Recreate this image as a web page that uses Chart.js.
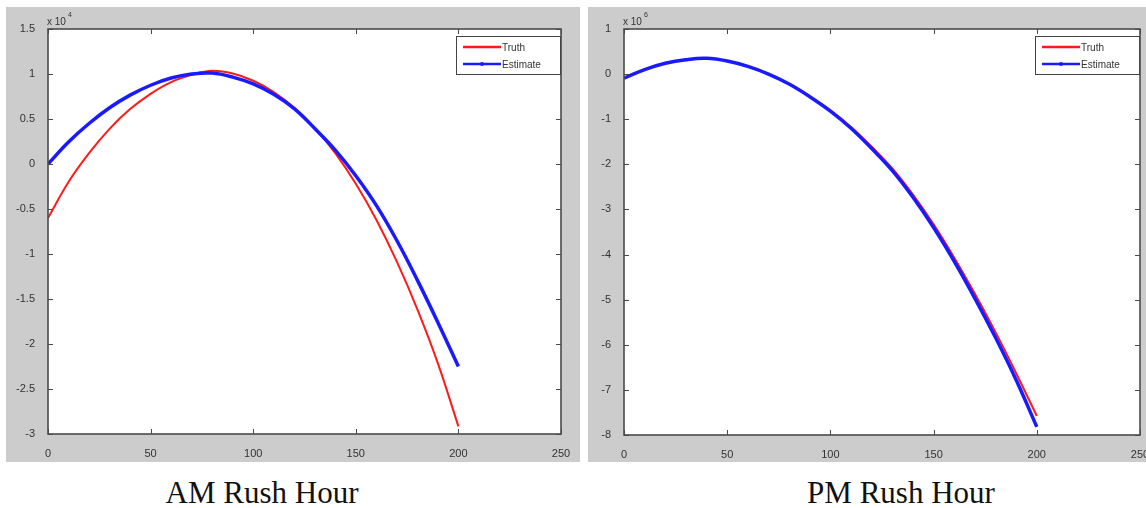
<!DOCTYPE html>
<html>
<head>
<meta charset="utf-8">
<script src="https://cdn.jsdelivr.net/npm/chart.js@4"></script>
<style>
  body{margin:0;background:#fff;width:1146px;height:508px;position:relative;overflow:hidden}
  .fig{position:absolute;top:7px;height:455px;background:#cccccc;overflow:hidden}
  #amFig{left:6px;width:574px}
  #pmFig{left:588px;width:558px}
  .box{position:absolute;left:0;top:0;height:455px}
  .cap{position:absolute;top:477px;width:400px;text-align:center;font:31px/31px "Liberation Serif",serif;color:#111}
</style>
</head>
<body>
<div class="fig" id="amFig"><div class="box" style="width:574px"><canvas id="amChart"></canvas></div></div>
<div class="fig" id="pmFig"><div class="box" style="width:580px"><canvas id="pmChart"></canvas></div></div>
<div class="cap" style="left:62px">AM Rush Hour</div>
<div class="cap" style="left:701px">PM Rush Hour</div>

<script>
// --- data (values in units of the axis exponent) ---
var xValues    = [0,10,20,30,40,50,60,70,80,90,100,110,120,130,140,150,160,170,180,190,200];
var amTruth    = [-0.60,-0.20,0.12,0.39,0.61,0.78,0.91,0.99,1.035,1.005,0.925,0.80,0.625,0.40,0.12,-0.22,-0.62,-1.085,-1.615,-2.215,-2.915];
var amEstimate = [0,0.245,0.45,0.625,0.765,0.875,0.955,1.00,1.01,0.965,0.89,0.775,0.615,0.395,0.155,-0.13,-0.46,-0.85,-1.29,-1.76,-2.25];
var pmTruth    = [-0.09,0.10,0.24,0.32,0.35,0.29,0.17,0.00,-0.22,-0.50,-0.80,-1.17,-1.61,-2.09,-2.67,-3.33,-4.07,-4.87,-5.72,-6.63,-7.58];
var pmEstimate = [-0.09,0.10,0.24,0.32,0.35,0.29,0.17,0.00,-0.22,-0.50,-0.82,-1.20,-1.65,-2.14,-2.73,-3.40,-4.15,-4.97,-5.84,-6.78,-7.82];
var xTicks     = [0,50,100,150,200,250];
var amYTicks   = [-3,-2.5,-2,-1.5,-1,-0.5,0,0.5,1,1.5];
var pmYTicks   = [-8,-7,-6,-5,-4,-3,-2,-1,0,1];
var seriesNames = ['Truth','Estimate'];

(function(){
  var tickFont = {family:'"Liberation Sans", Arial, sans-serif', size:11};

  function pts(arr){ return xValues.map(function(x,i){ return {x:x, y:arr[i]}; }); }

  // matlab-ish white axes, box, inward ticks, exponent label and legend
  var matlabAxes = {
    id:'matlabAxes',
    beforeDatasetsDraw:function(chart){
      var a = chart.chartArea, c = chart.ctx;
      c.save();
      c.fillStyle = '#fff';
      c.fillRect(a.left, a.top, a.right - a.left, a.bottom - a.top);
      c.restore();
    },
    afterDraw:function(chart){
      var o = chart.options.plugins.matlabAxes;
      var c = chart.ctx, a = chart.chartArea, xs = chart.scales.x, ys = chart.scales.y;
      c.save();
      c.strokeStyle = '#4a4a4a'; c.lineWidth = 1;
      c.beginPath();
      xs.ticks.forEach(function(t){
        var px = Math.round(xs.getPixelForValue(t.value)) + 0.5;
        c.moveTo(px, a.bottom); c.lineTo(px, a.bottom - 5);
        c.moveTo(px, a.top);    c.lineTo(px, a.top + 5);
      });
      ys.ticks.forEach(function(t){
        var py = Math.round(ys.getPixelForValue(t.value)) + 0.5;
        c.moveTo(a.left, py);  c.lineTo(a.left + 5, py);
        c.moveTo(a.right, py); c.lineTo(a.right - 5, py);
      });
      c.stroke();
      c.lineWidth = 1.6;
      c.strokeRect(a.left, a.top, a.right - a.left, a.bottom - a.top);

      // exponent
      c.fillStyle = '#333';
      c.font = '10px "Liberation Sans", Arial, sans-serif';
      c.textBaseline = 'alphabetic'; c.textAlign = 'left';
      c.fillText('x 10', a.left - 1, a.top - 4);
      var w = c.measureText('x 10').width;
      c.font = '7px "Liberation Sans", Arial, sans-serif';
      c.fillText(o.exp, a.left + w + 1, a.top - 12);

      // legend
      var lw = 105, lh = 39, lx = a.right - lw, ly = a.top + 7;
      c.fillStyle = '#fff';
      c.fillRect(lx, ly, lw, lh);
      c.strokeStyle = '#444'; c.lineWidth = 1;
      c.strokeRect(lx + 0.5, ly + 0.5, lw - 1, lh - 1);
      c.font = '10px "Liberation Sans", Arial, sans-serif';
      c.textBaseline = 'middle';
      chart.data.datasets.forEach(function(ds, i){
        var yy = ly + 11 + i * 17;
        c.strokeStyle = ds.borderColor; c.lineWidth = 2.5;
        c.beginPath(); c.moveTo(lx + 7, yy); c.lineTo(lx + 45, yy); c.stroke();
        if(i === 1){
          c.fillStyle = ds.borderColor;
          c.beginPath(); c.arc(lx + 26, yy, 2, 0, Math.PI * 2); c.fill();
        }
        c.fillStyle = '#333';
        c.fillText(ds.label, lx + 46, yy + 1);
      });
      c.restore();
    }
  };

  function makeChart(id, truth, est, yTicks, exp, yWidth, padRight, xHeight){
    var ctx = document.getElementById(id);
    return new Chart(ctx, {
      type:'line',
      data:{
        datasets:[
          {label:seriesNames[0], data:pts(truth), borderColor:'#ff1a1a', borderWidth:2,
           pointRadius:0, tension:0.4, order:2},
          {label:seriesNames[1], data:pts(est), borderColor:'#1a1aff', borderWidth:3.5,
           pointRadius:0, tension:0.4, order:1}
        ]
      },
      options:{
        responsive:true,
        maintainAspectRatio:false,
        animation:false,
        events:[],
        layout:{padding:{left:0, top:22, right:padRight, bottom:0}},
        plugins:{legend:{display:false}, tooltip:{enabled:false}, matlabAxes:{exp:exp}},
        scales:{
          x:{
            type:'linear', min:xTicks[0], max:xTicks[xTicks.length-1],
            afterBuildTicks:function(s){ s.ticks = xTicks.map(function(v){ return {value:v}; }); },
            grid:{display:false}, border:{display:false},
            ticks:{font:tickFont, color:'#333', padding:5, maxRotation:0, autoSkip:false,
                   callback:function(v){ return String(v); }},
            afterFit:function(s){ s.height = xHeight; }
          },
          y:{
            type:'linear', min:yTicks[0], max:yTicks[yTicks.length-1],
            afterBuildTicks:function(s){ s.ticks = yTicks.map(function(v){ return {value:v}; }); },
            grid:{display:false}, border:{display:false},
            ticks:{font:tickFont, color:'#333', padding:5, autoSkip:false,
                   callback:function(v){ return String(Math.round(v * 10) / 10); }},
            afterFit:function(s){ s.width = yWidth; }
          }
        }
      },
      plugins:[matlabAxes]
    });
  }

  makeChart('amChart', amTruth, amEstimate, amYTicks, '4', 42, 19, 28);
  makeChart('pmChart', pmTruth, pmEstimate, pmYTicks, '6', 36, 28, 27);
})();
</script>
</body>
</html>
